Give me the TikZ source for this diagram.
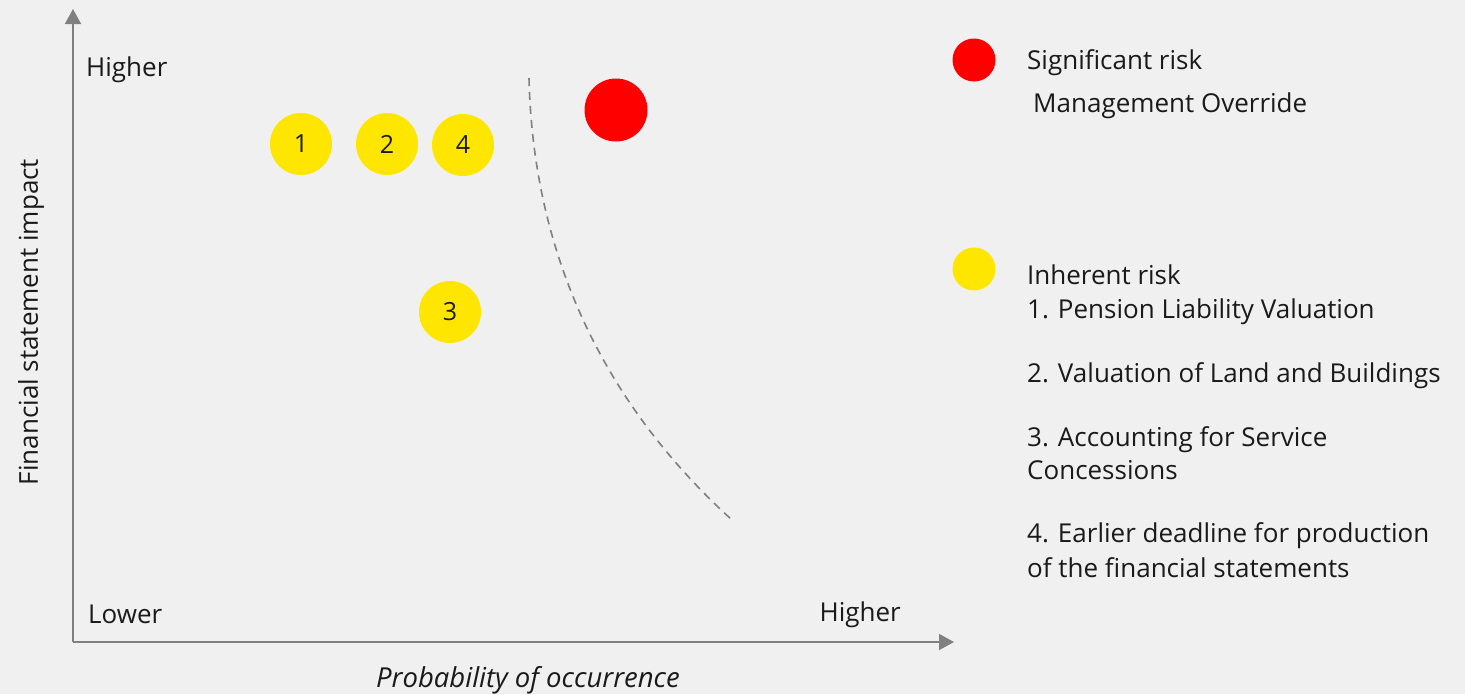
\documentclass[tikz,border=0pt]{standalone}
\usepackage{fontspec}
\setmainfont{Open Sans}
\usetikzlibrary{arrows.meta}
\definecolor{bg}{HTML}{F0F0F0}
\definecolor{axisgrey}{HTML}{808080}
\definecolor{eyyellow}{HTML}{FFE600}
\definecolor{sigred}{HTML}{FF0000}
\definecolor{txt}{HTML}{1A1A1A}
\begin{document}
\begin{tikzpicture}[x=1pt,y=-1pt,
  lbl/.style={font=\fontsize{26}{30}\selectfont, text=txt, inner sep=0pt, yshift=-2.5pt},
  leg/.style={lbl, anchor=west},
  ybub/.style={circle, fill=eyyellow, minimum size=62pt, inner sep=0pt, font=\fontsize{25}{28}\selectfont, text=txt},
  rbub/.style={circle, fill=sigred, minimum size=63pt, inner sep=0pt},
  axis/.style={draw=axisgrey, line width=1.6pt, -{Triangle[length=15pt,width=16pt]}},
  boundary/.style={draw=axisgrey, line width=1.6pt, dash pattern=on 8pt off 6pt}]
\fill[bg] (0,0) rectangle (1465,694);
\useasboundingbox (0,0) rectangle (1465,694);
\coordinate (O) at (73,642);
\coordinate (ytip) at (73,9);
\coordinate (xtip) at (954,642);
\draw[axis] (O) -- (ytip);
\draw[axis] (O) -- (xtip);
\node[lbl, anchor=west] (yhigh) at (86,67) {Higher};
\node[lbl, anchor=west] (xlow) at (88,612) {Lower};
\node[lbl, anchor=east] (xhigh) at (901,612) {Higher};
\node[lbl, font=\fontsize{27.5}{30}\selectfont\itshape] (xlab) at (528,678) {Probability of occurrence};
\node[lbl, rotate=90, yshift=0pt, xshift=2.5pt] (ylab) at (31,322) {Financial statement impact};
\node[ybub] (r1) at (301,144) {1};
\node[ybub] (r2) at (387,144) {2};
\node[ybub] (r4) at (463,145) {4};
\node[ybub] (r3) at (450,312) {3};
\node[rbub] (mo) at (616,110) {};
\coordinate (cs) at (529,78);
\coordinate (ce) at (732,520);
\draw[boundary] (cs) .. controls (533,250) and (600,400) .. (ce);
\node[circle, fill=sigred, minimum size=43pt, inner sep=0pt] (legr) at (974,60) {};
\node[circle, fill=eyyellow, minimum size=43pt, inner sep=0pt] (legy) at (974,269) {};
\node[leg] (sig) at (1027,60) {Significant risk};
\node[leg] (mgmt) at (1033,103) {Management Override};
\node[leg] (inh) at (1027,272) {Inherent risk};
\node[leg] (i1) at (1027,309) {1. Pension Liability Valuation};
\node[leg] (i2) at (1027,373) {2. Valuation of Land and Buildings};
\node[leg] (i3a) at (1027,437) {3. Accounting for Service};
\node[leg] (i3b) at (1027,468) {Concessions};
\node[leg] (i4a) at (1027,533) {4. Earlier deadline for production};
\node[leg] (i4b) at (1027,565) {of the financial statements};
\end{tikzpicture}
\end{document}
